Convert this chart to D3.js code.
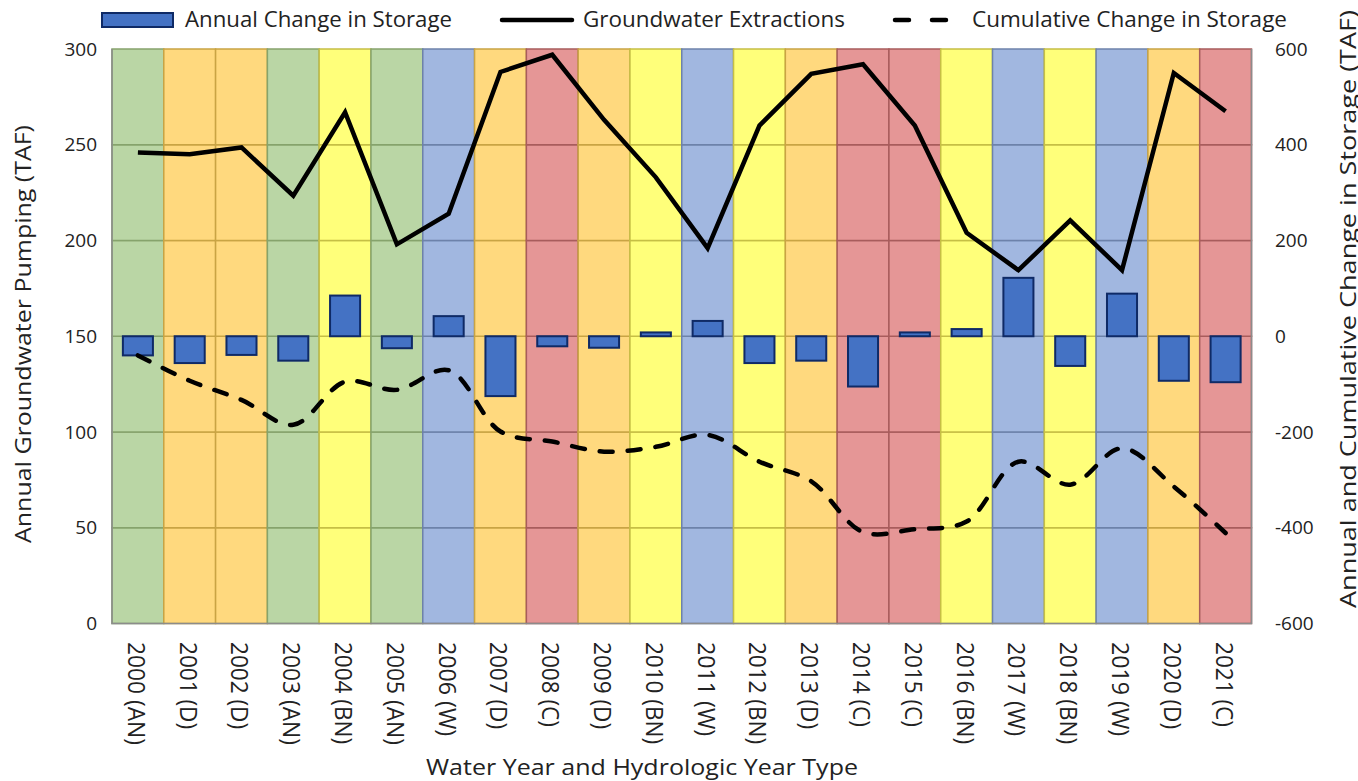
<!DOCTYPE html>
<html><head><meta charset="utf-8">
<script src="https://cdn.jsdelivr.net/npm/d3@7"></script>
<style>body{margin:0;background:#fff}svg{display:block}</style>
</head><body><svg id="c" width="1358" height="781"></svg>
<script>
const years = ["2000","2001","2002","2003","2004","2005","2006","2007","2008","2009","2010","2011","2012","2013","2014","2015","2016","2017","2018","2019","2020","2021"];
const yearTypes = ["AN","D","D","AN","BN","AN","W","D","C","D","BN","W","BN","D","C","C","BN","W","BN","W","D","C"];
const annualChange = [-40,-56,-39,-51,85,-25,42,-125,-21,-24,8,32,-56,-51,-105,8,15,122,-62,89,-93,-96];
const extractions = [246,245,248.6,223.4,267,198,214,288,297,263,233,196,260,287,292,260,204,184.5,210.5,184.5,287.5,267.5];
const cumulative = [-40,-93,-133,-185,-95,-112,-71,-199,-220,-241,-231,-206,-262,-303,-409,-403,-387,-262,-310,-234,-314,-411];
const leftTicks = [0,50,100,150,200,250,300];
const rightTicks = [-600,-400,-200,0,200,400,600];

const typeFill = {AN:"#bad6a5", D:"#ffd97e", BN:"#ffff7a", W:"#a1b7e0", C:"#e59696"};
const typeStroke = {AN:"#86a36c", D:"#c9a444", BN:"#c6bf45", W:"#6d82aa", C:"#a85c5c"};

const svg = d3.select("#c");
const L = 112, R = 1251.5, T = 49, B = 623.5;
const cats = years.map((y,i)=>y+" ("+yearTypes[i]+")");
const x = d3.scaleBand().domain(cats).range([L,R]).padding(0);
const yL = d3.scaleLinear().domain([0,300]).range([B,T]);
const yR = d3.scaleLinear().domain([-600,600]).range([B,T]);

// background bands as stacked segments of 50
const bandG = svg.append("g");
cats.forEach((c,i)=>{
  const t = yearTypes[i];
  for (let k=0;k<6;k++){
    bandG.append("rect")
      .attr("x", x(c)).attr("width", x.bandwidth())
      .attr("y", yL((k+1)*50)).attr("height", yL(k*50)-yL((k+1)*50))
      .attr("fill", typeFill[t]).attr("stroke", typeStroke[t]).attr("stroke-width",1.5);
  }
});
// frame
svg.append("path").attr("d",`M${L},${T}V${B}H${R}V${T}`).attr("fill","none").attr("stroke","#8c8c8c").attr("stroke-width",1.5);

// bars
const bw = x.bandwidth()*0.58;
svg.append("g").selectAll("rect").data(annualChange).join("rect")
  .attr("x",(d,i)=>x(cats[i])+x.bandwidth()/2-bw/2)
  .attr("width",bw)
  .attr("y",d=>yR(Math.max(0,d)))
  .attr("height",d=>Math.abs(yR(d)-yR(0)))
  .attr("fill","#4472c4").attr("stroke","#0f2a66").attr("stroke-width",2);

// extraction line
const cx = i => x(cats[i])+x.bandwidth()/2;
svg.append("path").datum(extractions)
  .attr("d", d3.line().x((d,i)=>cx(i)).y(d=>yL(d)))
  .attr("fill","none").attr("stroke","#000").attr("stroke-width",4.5).attr("stroke-linejoin","miter");

// cumulative dashed
svg.append("path").datum(cumulative)
  .attr("d", d3.line().x((d,i)=>cx(i)).y(d=>yR(d)).curve(d3.curveCatmullRom.alpha(0.5)))
  .attr("fill","none").attr("stroke","#000").attr("stroke-width",4.5)
  .attr("stroke-dasharray","13,15").attr("stroke-linecap","round");

const font = "'Open Sans', 'Noto Sans', sans-serif";
// left ticks
svg.append("g").selectAll("text").data(leftTicks).join("text")
  .attr("x",97).attr("y",d=>yL(d)).attr("dy","0.35em").attr("text-anchor","end")
  .attr("font-family",font).attr("font-size",19).attr("fill","#222").text(d=>d);
// right ticks
svg.append("g").selectAll("text").data(rightTicks).join("text")
  .attr("x",1275).attr("y",d=>yR(d)).attr("dy","0.35em").attr("text-anchor","start")
  .attr("font-family",font).attr("font-size",19).attr("fill","#222").text(d=>d);

// x tick labels rotated (condensed like the original)
const cw = {"0":0.507,"1":0.507,"2":0.507,"3":0.507,"4":0.507,"5":0.507,"6":0.507,"7":0.507,"8":0.507,"9":0.507,
  "(":0.303,")":0.303," ":0.1,"A":0.579,"N":0.646,"B":0.544,"D":0.615,"W":0.89,"C":0.533};
const labLen = s => s.split("").reduce((a,ch)=>a+(cw[ch]||0.5),0)*26;
svg.append("g").selectAll("text").data(cats).join("text")
  .attr("transform",(d,i)=>`translate(${cx(i)-10},642) rotate(90)`)
  .attr("text-anchor","start").attr("font-family",font)
  .attr("font-size",24).attr("fill","#222")
  .attr("textLength",d=>labLen(d)).attr("lengthAdjust","spacingAndGlyphs").text(d=>d);

// axis titles
svg.append("text").attr("transform","translate(31,334) rotate(-90)")
  .attr("text-anchor","middle").attr("font-family",font).attr("font-size",21).attr("fill","#222")
  .attr("textLength",418).attr("lengthAdjust","spacingAndGlyphs")
  .text("Annual Groundwater Pumping (TAF)");
svg.append("text").attr("transform","translate(1356,608) rotate(-90)")
  .attr("text-anchor","start").attr("font-family",font).attr("font-size",21).attr("fill","#222")
  .attr("textLength",598).attr("lengthAdjust","spacingAndGlyphs")
  .text("Annual and Cumulative Change in Storage (TAF)");
svg.append("text").attr("x",642).attr("y",775)
  .attr("text-anchor","middle").attr("font-family",font).attr("font-size",21).attr("fill","#222")
  .attr("textLength",432).attr("lengthAdjust","spacingAndGlyphs")
  .text("Water Year and Hydrologic Year Type");

// legend
const leg = svg.append("g");
leg.append("rect").attr("x",102).attr("y",13).attr("width",71).attr("height",14)
  .attr("fill","#4472c4").attr("stroke","#0f2a66").attr("stroke-width",2);
leg.append("text").attr("x",185).attr("y",27).attr("font-family",font).attr("font-size",21).attr("fill","#222")
  .attr("textLength",267).attr("lengthAdjust","spacingAndGlyphs").text("Annual Change in Storage");
leg.append("line").attr("x1",502).attr("x2",572).attr("y1",20).attr("y2",20).attr("stroke","#000").attr("stroke-width",4.5).attr("stroke-linecap","round");
leg.append("text").attr("x",583).attr("y",27).attr("font-family",font).attr("font-size",21).attr("fill","#222")
  .attr("textLength",262).attr("lengthAdjust","spacingAndGlyphs").text("Groundwater Extractions");
leg.append("line").attr("x1",895).attr("x2",949).attr("y1",20).attr("y2",20).attr("stroke","#000").attr("stroke-width",4.5)
  .attr("stroke-dasharray","14,23").attr("stroke-linecap","round");
leg.append("text").attr("x",972).attr("y",27).attr("font-family",font).attr("font-size",21).attr("fill","#222")
  .attr("textLength",315).attr("lengthAdjust","spacingAndGlyphs").text("Cumulative Change in Storage");
</script></body></html>
